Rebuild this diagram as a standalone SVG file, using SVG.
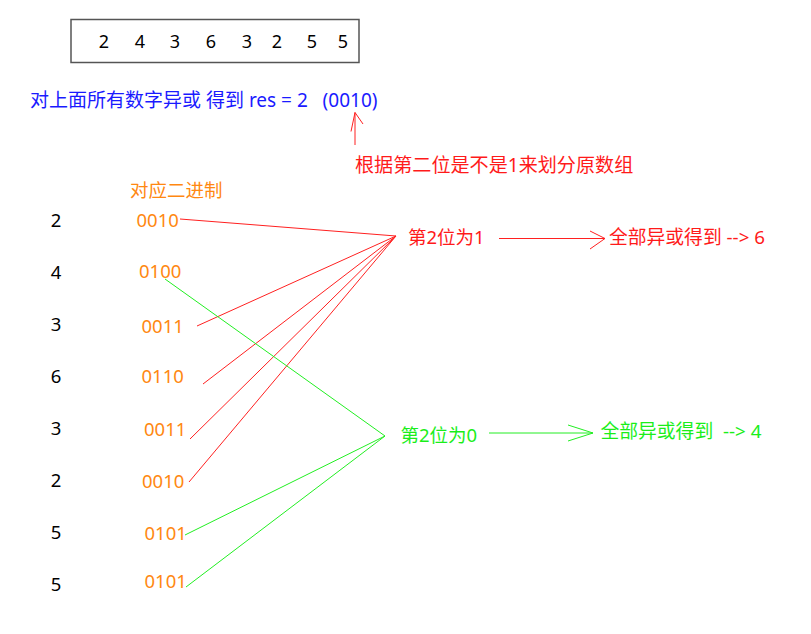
<svg xmlns="http://www.w3.org/2000/svg" width="811" height="634" viewBox="0 0 811 634">
<style>
text{font-family:"Noto Sans","Noto Sans CJK SC","Open Sans",sans-serif;}
.num{font-size:18.5px;fill:#000;}
.bin{font-size:18.5px;fill:#ff8811;}
.blue{font-size:19px;fill:#1a1aff;}
.red{font-size:18.5px;fill:#ff1a1a;}
.green{font-size:18.5px;fill:#1aee1a;}
.lr{stroke:#ff2020;stroke-width:1;fill:none;}
.lg{stroke:#22ee22;stroke-width:1;fill:none;}
</style>
<rect width="811" height="634" fill="#fff"/>
<g id="array">
<rect x="71" y="19.5" width="288" height="43" fill="none" stroke="#555" stroke-width="1.5"/>
<g class="num" text-anchor="middle" style="font-size:18px">
<text x="104" y="48">2</text><text x="140" y="48">4</text><text x="175" y="48">3</text><text x="211" y="48">6</text><text x="247" y="48">3</text><text x="277" y="48">2</text><text x="312" y="48">5</text><text x="343" y="48">5</text>
</g>
</g>
<g id="xor-all">
<text class="blue" x="30" y="107" xml:space="preserve">对上面所有数字异或 得到 res = 2   (0010)</text>
</g>
<g id="split-note">
<text class="red" x="355" y="172" style="font-size:19.1px">根据第二位是不是1来划分原数组</text>
</g>
<g id="binary-title">
<text class="bin" x="130" y="197">对应二进制</text>
</g>
<g id="numbers" class="num" text-anchor="middle">
<text x="56" y="227">2</text><text x="56" y="279">4</text><text x="56" y="331">3</text><text x="56" y="383">6</text><text x="56" y="435">3</text><text x="56" y="487">2</text><text x="56" y="539">5</text><text x="56" y="591">5</text>
</g>
<g id="binaries" class="bin">
<text x="136.5" y="227">0010</text>
<text x="139" y="278">0100</text>
<text x="141.5" y="333">0011</text>
<text x="141.5" y="383">0110</text>
<text x="144" y="436">0011</text>
<text x="142" y="488">0010</text>
<text x="144.5" y="540">0101</text>
<text x="144.5" y="588">0101</text>
</g>
<g id="bit1">
<text class="red" x="408" y="244">第2位为1</text>
</g>
<g id="result1">
<text class="red" x="609" y="244" style="font-size:18.8px">全部异或得到 --&gt; 6</text>
</g>
<g id="bit0">
<text class="green" x="400.5" y="442">第2位为0</text>
</g>
<g id="result0">
<text class="green" x="600.5" y="438" style="font-size:18.8px" xml:space="preserve">全部异或得到  --&gt; 4</text>
</g>
<g id="connectors">
<path class="lr" d="M355 145 V112.5 M351 131.5 L355 112.5 L363 124"/>
<path class="lr" d="M180 219 L396 236 M197 326 L396 236 M203 384 L396 236 M190 439 L396 236 M189 482 L396 236"/>
<path class="lg" d="M165 279 L385 436 M185 535 L385 436 M186 587 L385 436"/>
<path class="lr" d="M499 238.5 H605 M590 231 L605 238.5 L590 249"/>
<path class="lg" d="M489 433 H593 M568 425 L593 433 L568 441"/>
</g>
</svg>
